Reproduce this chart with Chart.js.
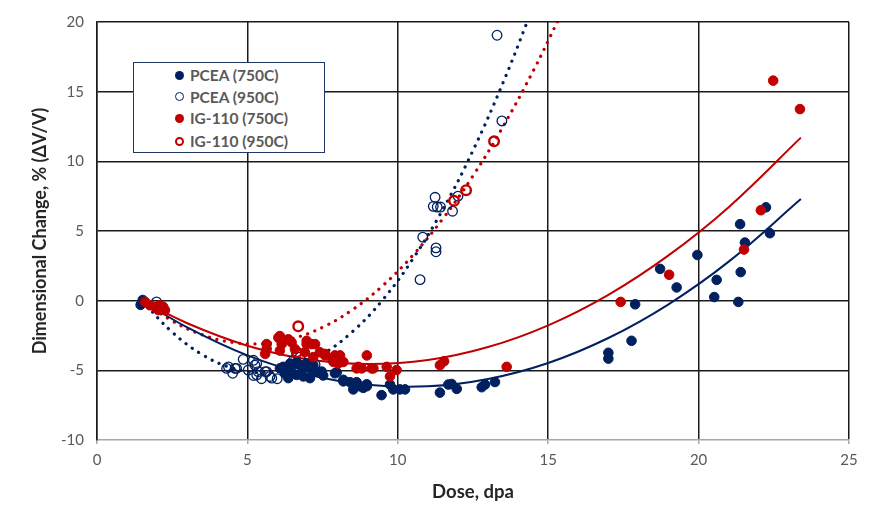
<!DOCTYPE html>
<html><head><meta charset="utf-8">
<script src="https://cdn.jsdelivr.net/npm/chart.js@4.4.1/dist/chart.umd.min.js"></script>
<style>
html,body{margin:0;padding:0;background:#fff;}
#wrap{position:relative;width:881px;height:511px;}
#legend{position:absolute;left:133px;top:62px;width:190px;height:89px;border:1px solid #1f3864;background:#fff;font-family:Lato,"Open Sans",sans-serif;font-weight:bold;font-size:15.5px;color:#595959;}
.row{position:absolute;left:56px;height:20px;line-height:20px;white-space:nowrap;}
.mk{position:absolute;left:41px;width:9px;height:9px;border-radius:50%;box-sizing:border-box;}
</style></head>
<body>
<div id="wrap">
<canvas id="c" width="881" height="511"></canvas>
<div id="legend"></div>
</div>
<script>
// ---- data ----
const seriesNames = ["PCEA (750C)", "PCEA (950C)", "IG-110 (750C)", "IG-110 (950C)"];

const pcea750 = [[1.45,-0.3],[1.52,0.05],
[6.08,-4.86],[6.19,-4.75],[6.25,-5.21],[6.36,-4.98],[6.36,-5.44],[6.36,-5.56],[6.42,-4.51],[6.53,-4.63],[6.64,-4.4],[6.64,-5.33],[6.75,-4.63],[6.86,-4.86],[6.86,-5.44],[6.97,-4.51],[7.08,-4.86],[7.08,-5.56],[7.19,-4.63],[7.3,-5.09],[7.47,-5.09],[7.52,-5.37],
[7.91,-5.21],[7.97,-5.14],[8.19,-5.68],[8.19,-5.79],[8.41,-5.85],[8.52,-6.37],[8.63,-5.85],[8.74,-6.14],[8.85,-6.26],[8.97,-6.0],[8.97,-6.14],[9.46,-6.78],[9.74,-6.02],[9.85,-6.37],[10.07,-6.37],[10.24,-6.37],
[11.4,-6.6],[11.68,-6.02],[11.79,-5.98],[11.96,-6.33],[12.79,-6.21],[12.9,-6.02],[13.23,-5.84],
[17.0,-3.74],[17.0,-4.16],[17.77,-2.88],[17.89,-0.26],[18.72,2.28],[19.27,0.95],[19.96,3.28],[20.52,0.26],[20.6,1.49],[21.32,-0.09],[21.4,2.05],[21.38,5.49],[21.54,4.17],[22.24,6.7],[22.37,4.84]];

const pcea950 = [[1.98,-0.09],
[4.31,-4.86],[4.37,-4.75],[4.51,-5.21],[4.59,-4.86],[4.64,-4.86],[4.86,-4.21],[5.03,-4.98],[5.2,-4.28],[5.2,-5.37],[5.25,-4.63],[5.31,-4.51],[5.31,-5.33],[5.36,-5.09],[5.47,-5.6],[5.59,-5.09],[5.64,-5.09],[5.75,-5.44],[5.81,-5.56],[5.99,-5.6],[6.53,-4.28],[6.75,-4.05],[7.25,-4.58],
[10.74,1.51],[10.83,4.56],[11.18,6.77],[11.24,7.42],[11.27,3.51],[11.27,3.79],[11.31,6.72],[11.42,6.72],[11.82,6.42],[12.0,7.5],[13.3,19.05],[13.46,12.9]];

const ig750 = [[1.6,-0.09],[1.76,-0.33],[1.93,-0.44],[2.04,-0.68],[2.09,-0.33],[2.2,-0.44],[2.26,-0.68],
[5.59,-3.82],[5.64,-3.12],[5.64,-3.47],[6.03,-2.65],[6.08,-2.54],[6.08,-3.58],[6.14,-3.12],[6.36,-2.77],[6.47,-3.0],[6.58,-3.47],[6.91,-3.7],[6.97,-2.88],[6.97,-3.12],[7.13,-3.12],[7.19,-4.05],[7.25,-3.12],[7.41,-3.7],[7.58,-3.82],[7.58,-3.93],[7.8,-4.16],[7.86,-4.4],[7.91,-3.93],[8.02,-4.28],[8.02,-4.51],[8.08,-3.93],[8.19,-4.4],[8.63,-4.86],[8.69,-4.75],[8.8,-4.86],[8.97,-3.93],[9.13,-4.86],[9.19,-4.86],[9.63,-4.75],[9.74,-5.44],[9.96,-4.98],[11.4,-4.63],[11.54,-4.35],[13.62,-4.75],
[17.41,-0.09],[19.02,1.86],[21.51,3.67],[22.07,6.49],[22.48,15.79],[23.37,13.75]];

const ig950 = [[6.64,-3.7],[6.69,-1.84],[11.87,7.17],[12.27,7.93],[13.2,11.44]];

// trend curves, points
const pcea750FitX = [1.5,3,5,7,9,11,13,15,17,19,21,23.4];
const pcea750FitY = [0.0,-1.92,-3.93,-5.30,-6.04,-6.15,-5.62,-4.47,-2.68,-0.26,2.80,7.29];
const ig750FitX = [1.5,3,5,7,9,11,13,15,17,19,21,23.4];
const ig750FitY = [0.0,-1.62,-3.23,-4.21,-4.55,-4.26,-3.33,-1.77,0.42,3.25,6.71,11.70];
const pcea950FitX = [1.5,2.5,3.5,4.5,5.5,6.5,7.5,8.5,9.5,10.5,11.5,12.5,13.5,14.3,14.6];
const pcea950FitY = [0.0,-2.26,-3.87,-4.84,-5.15,-4.82,-3.84,-2.21,0.06,2.99,6.56,10.78,15.65,20.0,21.75];
const ig950FitX = [1.5,2.5,3.5,4.5,5.5,6.5,7.5,8.5,9.5,10.5,11.5,12.5,13.5,14.5,15.3,15.6];
const ig950FitY = [0.0,-1.45,-2.45,-2.99,-3.08,-2.72,-1.91,-0.64,1.08,3.26,5.89,8.96,12.50,16.48,20.0,21.39];

const xTicks = [0,5,10,15,20,25];
const yTicks = [-10,-5,0,5,10,15,20];

// ---- styles ----
const NAVY = '#002060', RED = '#C00000';
const pts = a => a.map(([x,y]) => ({x, y}));
const curve = (xs, ys) => xs.map((x,i) => ({x, y: ys[i]}));
const FONT = 'Lato, "Open Sans", sans-serif';

const lineDs = (data, color, dotted, order) => ({
  type: 'scatter', data, showLine: true, tension: 0.4, pointRadius: 0, fill: false,
  borderColor: color, borderWidth: dotted ? 3.2 : 2,
  borderDash: dotted ? [0.1, 7.6] : [], borderCapStyle: dotted ? 'round' : 'butt',
  order
});

new Chart(document.getElementById('c'), {
  type: 'scatter',
  data: {
    datasets: [
      {label: seriesNames[3], data: pts(ig950), pointRadius: 4.8, pointBorderWidth: 2.4, borderColor: RED, backgroundColor: 'rgba(0,0,0,0)', order: 1},
      {label: seriesNames[2], data: pts(ig750), pointRadius: 4.8, pointBorderWidth: 1, borderColor: RED, backgroundColor: RED, order: 2},
      {label: seriesNames[1], data: pts(pcea950), pointRadius: 4.8, pointBorderWidth: 1.3, borderColor: NAVY, backgroundColor: 'rgba(0,0,0,0)', order: 3},
      {label: seriesNames[0], data: pts(pcea750), pointRadius: 4.8, pointBorderWidth: 1, borderColor: NAVY, backgroundColor: NAVY, order: 4},
      lineDs(curve(pcea750FitX, pcea750FitY), NAVY, false, 5),
      lineDs(curve(ig750FitX, ig750FitY), RED, false, 6),
      lineDs(curve(pcea950FitX, pcea950FitY), NAVY, true, 7),
      lineDs(curve(ig950FitX, ig950FitY), RED, true, 8)
    ]
  },
  options: {
    responsive: false, animation: false, devicePixelRatio: 1, events: [],
    layout: {padding: {left: 0, top: 10, right: 32, bottom: 0}},
    plugins: {legend: {display: false}, tooltip: {enabled: false}},
    scales: {
      x: {
        type: 'linear', min: 0, max: 25,
        afterBuildTicks: s => { s.ticks = xTicks.map(v => ({value: v})); },
        afterFit: s => { s.height = 71; },
        ticks: {color: '#595959', font: {family: FONT, size: 15}, padding: 7},
        grid: {color: '#1a1a1a', lineWidth: 1.5, tickLength: 4, tickColor: '#a6a6a6', tickWidth: 1.5},
        border: {color: '#a6a6a6', width: 1.5},
        title: {display: true, text: 'Dose, dpa', color: '#262626', font: {family: FONT, size: 18.5, weight: 'bold'}, padding: {top: 0, bottom: 8}}
      },
      y: {
        type: 'linear', min: -10, max: 20,
        afterBuildTicks: s => { s.ticks = yTicks.map(v => ({value: v})); },
        afterFit: s => { s.width = 97; },
        ticks: {color: '#595959', font: {family: FONT, size: 15}, padding: 13},
        grid: {color: c => (c.tick && c.tick.value === -10) ? 'rgba(0,0,0,0)' : '#1a1a1a', lineWidth: 1.5, drawTicks: false},
        border: {color: '#1a1a1a', width: 1.5},
        title: {display: true, text: 'Dimensional Change, % (ΔV/V)', color: '#262626', font: {family: FONT, size: 18, weight: 'bold'}, padding: {top: 29, bottom: 0}}
      }
    }
  }
});

// legend (HTML text)
const legendStyles = [
  {bg: NAVY, border: NAVY, bw: 0},
  {bg: 'transparent', border: NAVY, bw: 1.3},
  {bg: RED, border: RED, bw: 0},
  {bg: 'transparent', border: RED, bw: 2.4}
];
const rowCenters = [12, 33.7, 55.3, 78];
const lg = document.getElementById('legend');
seriesNames.forEach((name, i) => {
  const m = document.createElement('div');
  m.className = 'mk';
  const st = legendStyles[i];
  m.style.top = (rowCenters[i] - 4.5) + 'px';
  m.style.background = st.bg;
  m.style.border = st.bw ? (st.bw + 'px solid ' + st.border) : 'none';
  lg.appendChild(m);
  const t = document.createElement('div');
  t.className = 'row';
  t.style.top = (rowCenters[i] - 10) + 'px';
  t.textContent = name;
  lg.appendChild(t);
});
</script>
</body></html>
